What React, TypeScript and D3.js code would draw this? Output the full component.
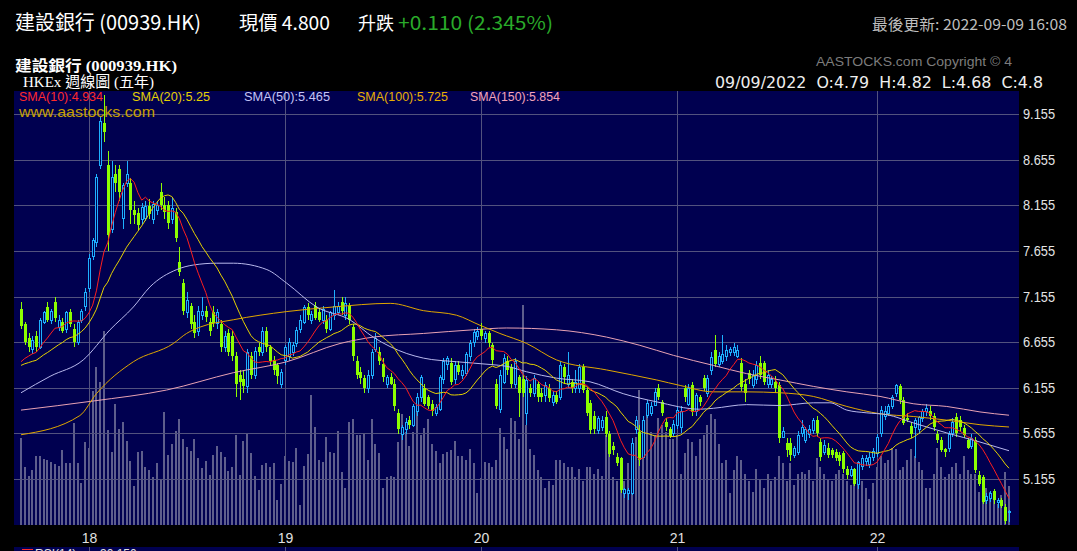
import React from 'react';
import * as d3 from 'd3';

// ---------- data ----------
const yearLabels = ['18', '19', '20', '21', '22'];
const yearStartIdx = [18, 70, 122, 174, 227];
const priceTicks = [5.155, 5.655, 6.155, 6.655, 7.155, 7.655, 8.155, 8.655, 9.155];

// weekly [open, high, low, close]
const ohlc2017 = [
  [7.02,7.10,6.80,6.83],[6.85,6.88,6.62,6.66],[6.70,6.75,6.55,6.60],[6.58,6.72,6.52,6.68],
  [6.72,6.78,6.55,6.60],[6.60,6.92,6.58,6.90],[6.88,7.00,6.85,6.98],[7.04,7.10,6.88,6.90],
  [6.90,7.02,6.85,7.00],[7.10,7.15,6.88,6.92],[6.82,6.95,6.78,6.90],[6.88,6.92,6.75,6.78],
  [6.80,7.00,6.76,6.98],[6.98,7.02,6.82,6.85],[6.80,6.85,6.60,6.66],[6.66,6.90,6.62,6.88],
  [6.90,7.02,6.86,7.00],[7.05,7.25,7.00,7.20]
];
const ohlc2018 = [
  [7.25,7.62,7.20,7.58],[7.60,7.80,7.55,7.77],[7.75,8.50,7.70,8.47],[8.60,9.12,8.55,9.08],
  [9.06,9.36,8.85,8.96],[8.60,8.75,7.65,7.83],[7.90,8.64,7.85,8.47],[8.50,8.60,8.30,8.40],
  [8.55,8.60,8.20,8.30],[8.01,8.40,7.90,8.38],[8.40,8.64,8.35,8.50],[8.40,8.45,7.95,8.10],
  [8.10,8.20,7.95,8.05],[8.07,8.12,7.88,7.94],[8.00,8.18,7.95,8.14],[8.02,8.20,7.98,8.15],
  [8.15,8.22,8.00,8.06],[8.00,8.20,7.95,8.17],[8.10,8.20,8.05,8.16],[8.30,8.40,8.10,8.16],
  [8.16,8.25,8.00,8.08],[8.16,8.20,7.90,7.96],[8.00,8.25,7.95,8.12],[8.08,8.12,7.75,7.80],
  [7.53,7.70,7.38,7.42],[7.30,7.35,6.95,7.00],[6.98,7.20,6.92,7.12],[7.05,7.08,6.80,6.85],
  [6.88,6.95,6.70,6.75],[6.78,7.05,6.72,7.00],[6.95,7.15,6.90,7.00],[7.00,7.05,6.88,6.93],
  [6.88,6.92,6.72,6.78],[6.98,7.05,6.82,6.86],[6.86,7.02,6.80,6.98],[6.85,6.90,6.55,6.60],
  [6.60,6.78,6.55,6.72],[6.75,6.80,6.50,6.55],[6.72,6.78,6.45,6.50],[6.50,6.55,6.05,6.20],
  [6.30,6.35,6.02,6.22],[6.25,6.35,6.10,6.17],[6.17,6.58,6.10,6.55],[6.50,6.55,6.25,6.30],
  [6.30,6.60,6.25,6.56],[6.60,6.65,6.50,6.55],[6.55,6.82,6.50,6.78],[6.78,6.82,6.55,6.60],
  [6.60,6.62,6.40,6.45],[6.46,6.50,6.30,6.35],[6.40,6.43,6.20,6.28],[6.20,6.36,6.15,6.33]
];
const ohlc2019 = [
  [6.46,6.62,6.40,6.60],[6.50,6.70,6.45,6.66],[6.55,6.66,6.50,6.62],[6.64,6.82,6.60,6.79],
  [6.80,6.95,6.75,6.90],[6.88,7.06,6.85,7.04],[7.04,7.08,6.90,6.95],[6.90,7.00,6.85,6.96],
  [7.05,7.10,6.90,6.92],[6.98,7.02,6.88,6.90],[6.90,7.05,6.85,7.02],[6.90,6.95,6.75,6.80],
  [6.80,7.00,6.78,6.98],[6.95,7.23,6.90,7.05],[6.98,7.10,6.95,7.05],[7.10,7.15,6.95,7.00],
  [6.95,7.15,6.90,7.08],[7.05,7.08,6.85,6.90],[6.82,6.85,6.45,6.50],[6.45,6.50,6.25,6.30],
  [6.33,6.38,6.20,6.26],[6.26,6.30,6.10,6.15],[6.15,6.35,6.10,6.30],[6.30,6.58,6.25,6.55],
  [6.58,6.75,6.55,6.70],[6.55,6.60,6.40,6.45],[6.42,6.48,6.22,6.27],[6.20,6.30,6.15,6.27],
  [6.27,6.32,6.18,6.20],[6.20,6.25,5.90,5.95],[5.88,5.92,5.65,5.70],[5.65,5.75,5.58,5.72],
  [5.70,5.82,5.65,5.78],[5.80,5.85,5.70,5.75],[5.75,5.98,5.72,5.95],[5.90,6.10,5.85,6.05],
  [6.05,6.30,6.00,6.27],[6.15,6.20,5.95,5.98],[6.05,6.08,5.92,5.95],[5.98,6.02,5.85,5.90],
  [5.88,5.98,5.84,5.94],[5.92,6.30,5.90,6.27],[6.25,6.48,6.20,6.45],[6.42,6.50,6.35,6.48],
  [6.43,6.48,6.18,6.22],[6.25,6.45,6.20,6.40],[6.40,6.45,6.30,6.33],[6.30,6.40,6.25,6.35],
  [6.32,6.55,6.28,6.52],[6.50,6.68,6.45,6.65],[6.66,6.80,6.60,6.77],[6.72,6.82,6.68,6.78]
];
const ohlc2020 = [
  [6.80,6.86,6.68,6.72],[6.70,6.78,6.65,6.75],[6.75,6.78,6.60,6.65],[6.62,6.65,6.40,6.46],
  [6.20,6.25,5.92,5.96],[5.92,6.35,5.88,6.30],[6.22,6.52,6.20,6.48],[6.45,6.50,6.30,6.35],
  [6.38,6.42,6.15,6.20],[6.20,6.48,6.15,6.45],[6.27,6.30,5.83,6.10],[6.25,6.30,6.05,6.10],
  [5.88,6.28,5.75,6.24],[6.15,6.20,6.05,6.10],[6.10,6.30,6.05,6.26],[6.20,6.22,6.00,6.05],
  [6.10,6.15,6.00,6.05],[6.08,6.22,6.00,6.18],[6.15,6.20,6.00,6.04],[6.00,6.12,5.95,6.08],
  [6.08,6.12,5.98,6.00],[6.05,6.45,6.02,6.40],[6.38,6.42,6.20,6.27],[6.20,6.55,6.15,6.30],
  [6.22,6.25,6.10,6.15],[6.15,6.35,6.10,6.22],[6.15,6.42,6.10,6.38],[6.38,6.42,6.10,6.13],
  [6.13,6.15,5.85,5.88],[5.99,6.02,5.65,5.69],[5.85,5.90,5.65,5.70],[5.69,5.85,5.65,5.82],
  [5.72,5.85,5.68,5.80],[5.83,5.90,5.62,5.65],[5.65,5.68,5.40,5.43],[5.52,5.56,5.42,5.47],
  [5.40,5.44,5.30,5.33],[5.38,5.40,5.00,5.03],[5.00,5.06,4.95,5.05],[5.00,5.06,4.92,5.03],
  [5.00,5.60,4.98,5.55],[5.70,5.85,5.65,5.80],[5.67,5.75,5.30,5.36],[5.40,5.85,5.38,5.80],
  [5.86,6.02,5.82,5.99],[5.88,6.00,5.85,5.95],[5.97,6.15,5.95,6.11],[6.15,6.20,6.02,6.05],
  [6.00,6.02,5.85,5.88],[5.78,5.82,5.68,5.72],[5.70,5.72,5.60,5.63],[5.66,5.80,5.62,5.76]
];
const ohlc2021 = [
  [5.75,5.95,5.70,5.91],[5.72,5.95,5.66,5.90],[6.15,6.18,6.00,6.05],[5.98,6.20,5.95,6.15],
  [6.19,6.22,5.85,5.89],[5.90,6.10,5.85,6.08],[6.05,6.08,5.95,6.00],[6.26,6.30,6.12,6.15],
  [6.10,6.30,6.05,6.26],[6.35,6.55,6.30,6.49],[6.57,6.73,6.38,6.42],[6.42,6.55,6.38,6.50],
  [6.45,6.73,6.42,6.52],[6.50,6.62,6.45,6.57],[6.55,6.60,6.50,6.58],[6.55,6.65,6.50,6.60],
  [6.50,6.62,6.48,6.57],[6.43,6.48,6.12,6.16],[6.20,6.25,6.00,6.10],[6.32,6.35,6.20,6.25],
  [6.18,6.35,6.15,6.30],[6.25,6.45,6.20,6.40],[6.43,6.50,6.25,6.30],[6.43,6.45,6.18,6.22],
  [6.20,6.35,6.15,6.30],[6.20,6.28,6.15,6.25],[6.22,6.28,6.10,6.15],[6.18,6.22,5.55,5.60],
  [5.62,5.72,5.60,5.68],[5.55,5.60,5.40,5.47],[5.55,5.60,5.35,5.42],[5.42,5.52,5.38,5.50],
  [5.45,5.68,5.42,5.64],[5.66,5.80,5.62,5.72],[5.58,5.72,5.55,5.70],[5.65,5.75,5.60,5.70],
  [5.69,5.82,5.65,5.80],[5.80,5.85,5.62,5.66],[5.56,5.60,5.35,5.40],[5.45,5.58,5.42,5.53],
  [5.50,5.55,5.38,5.42],[5.47,5.50,5.38,5.42],[5.45,5.48,5.35,5.38],[5.42,5.45,5.30,5.35],
  [5.44,5.46,5.22,5.26],[5.26,5.30,5.15,5.20],[5.20,5.30,5.18,5.26],[5.26,5.28,5.08,5.10],
  [5.10,5.35,5.05,5.34],[5.30,5.42,5.25,5.38],[5.35,5.42,5.30,5.38],[5.32,5.45,5.28,5.40],
  [5.40,5.50,5.35,5.46]
];
const ohlc2022 = [
  [5.44,5.65,5.40,5.62],[5.66,5.95,5.62,5.91],[5.85,5.95,5.80,5.90],[5.88,5.98,5.85,5.96],
  [5.95,6.08,5.92,6.05],[6.10,6.20,6.05,6.18],[6.17,6.20,5.98,6.02],[6.02,6.05,5.75,5.77],
  [5.82,5.88,5.78,5.80],[5.74,5.78,5.60,5.65],[5.73,5.82,5.38,5.80],[5.70,5.85,5.65,5.83],
  [5.82,5.92,5.78,5.90],[5.90,5.98,5.85,5.93],[5.90,5.95,5.80,5.84],[5.84,5.88,5.68,5.72],
  [5.65,5.68,5.55,5.58],[5.58,5.62,5.45,5.47],[5.48,5.50,5.40,5.45],[5.50,5.68,5.45,5.65],
  [5.66,5.82,5.62,5.78],[5.83,5.88,5.62,5.66],[5.80,5.85,5.68,5.72],[5.71,5.75,5.60,5.64],
  [5.58,5.60,5.48,5.50],[5.52,5.65,5.48,5.60],[5.58,5.62,5.22,5.25],[5.20,5.24,5.08,5.10],
  [5.18,5.20,4.88,4.90],[4.92,5.00,4.88,4.97],[4.95,5.02,4.90,5.00],[5.02,5.05,4.88,4.92],
  [4.90,4.95,4.84,4.93],[4.93,4.95,4.84,4.86],[4.85,4.88,4.66,4.69],[4.79,4.82,4.68,4.80]
];

// weekly volume (millions of shares)
const vol2017 = [823,550,467,523,650,650,623,617,600,577,557,710,583,590,963,590,400,783];
const vol2018 = [733,1267,1500,1350,1833,900,690,1150,910,977,800,610,367,690,700,550,523,457,590,430,
  1067,667,767,890,1000,817,743,700,810,630,543,610,477,667,750,690,643,510,550,850,477,800,867,683,463,330,
  567,590,550,583,233,393];
const vol2019 = [650,610,600,730,193,557,677,1230,930,617,600,830,690,683,890,500,350,977,1003,850,
  850,867,617,1000,767,683,350,450,467,450,783,1050,883,750,883,1067,850,917,1000,767,
  700,590,677,690,710,800,657,650,617,717,583,300];
const vol2020 = [443,600,583,550,617,917,833,717,1017,983,817,2083,950,717,667,517,450,350,417,383,
  617,617,583,550,550,450,533,417,550,550,483,533,467,850,783,450,417,617,417,583,
  583,833,1283,950,1083,883,850,1017,950,883,817,817];
const vol2021 = [850,483,683,817,783,650,817,850,950,1050,1000,767,583,617,300,517,650,617,483,417,
  317,533,433,350,483,417,450,650,583,417,583,383,483,500,483,517,417,633,550,483,
  433,417,483,517,483,417,383,450,483,417,350,250,400];
const vol2022 = [550,650,583,617,733,717,517,550,617,717,650,600,517,350,350,483,733,550,450,483,
  550,583,483,650,517,483,483,317,250,350,317,250,200,283,500,367];

// closes of the weeks before the first bar (for the 10/20 week averages)
const priorCloses = [6.30,6.35,6.40,6.38,6.32,6.36,6.40,6.42,6.35,6.32,6.30,6.35,6.42,6.45,6.40,6.38,6.42,6.45,6.40];

// long moving averages (week index, value)
const sma50Week = [0,7.7,16.5,23.6,29.8,34.2,41.3,45.7,51.9,56.3,65.2,70.5,78.4,87.2,93.4,102.3,106.7,115.5,124.4,128.8,134.1,142,150.9,159.7,168.6,180,183.6,192.4,201.3,210.1,214.5,219,224.3,229.6,236.6,245.5,254.3,262];
const sma50Val = [6.10,6.28,6.46,6.79,7.04,7.26,7.45,7.50,7.52,7.52,7.45,7.30,7.04,6.90,6.71,6.53,6.48,6.44,6.41,6.39,6.33,6.26,6.22,6.09,6.00,5.92,5.93,5.97,5.96,5.99,5.99,5.91,5.88,5.86,5.77,5.66,5.56,5.465];
const sma100Week = [0,15.6,20,29.8,40.4,43.9,47.5,56.3,70.5,82.8,97.9,106.7,115.5,121.7,127,134.1,142,155.3,168.6,174.8,183.6,192.4,201.3,210.1,219,227.8,236.6,245.5,254.3,262];
const sma100Val = [5.64,5.85,6.09,6.44,6.64,6.75,6.82,6.90,6.99,7.04,7.08,7.00,6.95,6.84,6.75,6.64,6.46,6.35,6.24,6.18,6.11,6.11,6.10,6.06,5.95,5.87,5.84,5.80,5.75,5.725];
const sma150Week = [0,19.2,38.6,56.3,70.5,84.6,93.4,106.7,119.9,128.8,142,155.3,164.1,173,183.6,192.4,201.3,210.1,219,227.8,236.6,245.5,254.3,262];
const sma150Val = [5.91,6.01,6.13,6.32,6.44,6.64,6.71,6.75,6.79,6.81,6.79,6.71,6.62,6.51,6.40,6.31,6.24,6.17,6.11,6.06,5.98,5.95,5.89,5.854];

const legendItems = [
  { label: 'SMA(10):4.934', color: '#ff2a2a' },
  { label: 'SMA(20):5.25', color: '#e6d200' },
  { label: 'SMA(50):5.465', color: '#c4c4f4' },
  { label: 'SMA(100):5.725', color: '#e8b000' },
  { label: 'SMA(150):5.854', color: '#f4a4b8' },
];

// ---------- styles ----------
const BG = '#000050';
const GRID = '#52527e';
const UP = '#1eb0ff';
const DOWN = '#8cff00';
const VOL = '#5e5e8c';
const LINE_COLORS = { s10: '#ff1e1e', s20: '#e6d200', s50: '#b8b8ec', s100: '#e0a600', s150: '#e8a2b4' };

export default function App() {
  const W = 1077, H = 551;
  const L = 14, R = 1019, T = 91, B = 525;

  const ohlc = [...ohlc2017, ...ohlc2018, ...ohlc2019, ...ohlc2020, ...ohlc2021, ...ohlc2022];
  const vols = [...vol2017, ...vol2018, ...vol2019, ...vol2020, ...vol2021, ...vol2022];

  const x = d3.scaleLinear().domain([-1.856, 264.65]).range([L, R]);
  const y = d3.scaleLinear().domain([4.6509, 9.4071]).range([B, T]);
  const yv = d3.scaleLinear().domain([0, 4110]).range([B, T]);

  const closes = ohlc.map(d => d[3]);
  const allCloses = [...priorCloses, ...closes];
  const p = priorCloses.length;
  const movAvg = (n: number) => closes.map((_, i) => d3.mean(allCloses.slice(i + p - n + 1, i + p + 1)) as number);
  const s10 = movAvg(10);
  const s20 = movAvg(20);

  const lineIdx = d3.line<number>().x((_, i) => x(i)).y(v => y(v));
  const lineSample = (weeks: number[], vals: number[]) =>
    d3.line<number>().x((_, i) => x(weeks[i])).y(v => y(v)).curve(d3.curveMonotoneX)(vals) || '';

  const legendX = [19, 132, 244, 357, 470];
  const legendW = [84, 78, 86, 91, 90];

  return (
    <svg width={W} height={H} style={{ position: 'fixed', left: 0, top: 0, background: '#000' }}>
      <defs>
        <clipPath id="plotClip"><rect x={L} y={T} width={R - L} height={B - T} /></clipPath>
      </defs>
      <rect x={0} y={0} width={W} height={H} fill="#000" />

      {/* header */}
      <g fontFamily="'Noto Sans CJK TC', 'Noto Sans', sans-serif">
        <text x={15} y={30} fontSize={20} fill="#fff" textLength={186} lengthAdjust="spacingAndGlyphs">建設銀行 (00939.HK)</text>
        <text x={239} y={30} fontSize={19} fill="#fff" textLength={91} lengthAdjust="spacingAndGlyphs">現價 4.800</text>
        <text x={358} y={30} fontSize={18} fill="#fff">升跌</text>
        <text x={398} y={30} fontSize={19} fill="#2aaa2a" textLength={155} lengthAdjust="spacingAndGlyphs">+0.110 (2.345%)</text>
        <text x={872} y={30} fontSize={15} fill="#bdbdbd" textLength={195} lengthAdjust="spacingAndGlyphs">最後更新: 2022-09-09 16:08</text>
      </g>
      <g fontFamily="'Liberation Serif', 'Noto Sans CJK TC', serif">
        <text x={15} y={71} fontSize={15} fontWeight="bold" fill="#fff" textLength={162} lengthAdjust="spacingAndGlyphs">建設銀行 (000939.HK)</text>
        <text x={23} y={87} fontSize={15} fill="#fff" textLength={131} lengthAdjust="spacingAndGlyphs">HKEx 週線圖 (五年)</text>
      </g>
      <text x={816} y={66} fontSize={13} fill="#7c7c7c" fontFamily="'Liberation Sans', sans-serif" textLength={196} lengthAdjust="spacingAndGlyphs">AASTOCKS.com Copyright © 4</text>
      <text x={715} y={88} fontSize={15} fill="#eee" fontFamily="'DejaVu Sans', sans-serif" style={{ whiteSpace: 'pre' }} textLength={328} lengthAdjust="spacingAndGlyphs">09/09/2022  O:4.79  H:4.82  L:4.68  C:4.8</text>

      {/* plot background */}
      <rect x={L} y={T} width={R - L} height={B - T} fill={BG} />

      {/* volume */}
      <g>
        {vols.map((v, i) => {
          const X = Math.round(x(i));
          const top = Math.round(yv(v));
          return <rect key={i} x={X - 1} y={top} width={2} height={B - top} fill={VOL} />;
        })}
      </g>

      {/* grid */}
      <g stroke={GRID} strokeWidth={1}>
        {priceTicks.map(t => {
          const yy = Math.round(y(t)) + 0.5;
          return <line key={t} x1={L} x2={R} y1={yy} y2={yy} />;
        })}
        {yearStartIdx.map(i => {
          const xx = Math.round(x(i)) + 0.5;
          return <line key={i} x1={xx} x2={xx} y1={T} y2={B} />;
        })}
      </g>

      {/* candles */}
      <g clipPath="url(#plotClip)">
        {ohlc.map((d, i) => {
          const [o, h, l, c] = d;
          const X = Math.round(x(i));
          const up = c >= o;
          const col = up ? UP : DOWN;
          const yt = Math.round(y(Math.max(o, c)));
          const yb = Math.round(y(Math.min(o, c)));
          return (
            <g key={i}>
              <line x1={X + 0.5} x2={X + 0.5} y1={Math.round(y(h))} y2={Math.round(y(l))} stroke={col} />
              {up
                ? <rect x={X - 0.5} y={yt + 0.5} width={2} height={Math.max(1, yb - yt)} fill={BG} stroke={col} />
                : <rect x={X - 1} y={yt} width={3} height={Math.max(1, yb - yt)} fill={col} />}
            </g>
          );
        })}
      </g>

      {/* moving averages */}
      <g clipPath="url(#plotClip)" fill="none" strokeWidth={1}>
        <path d={lineSample(sma150Week, sma150Val)} stroke={LINE_COLORS.s150} />
        <path d={lineSample(sma100Week, sma100Val)} stroke={LINE_COLORS.s100} />
        <path d={lineSample(sma50Week, sma50Val)} stroke={LINE_COLORS.s50} />
        <path d={lineIdx(s20) || ''} stroke={LINE_COLORS.s20} />
        <path d={lineIdx(s10) || ''} stroke={LINE_COLORS.s10} />
      </g>

      {/* legend */}
      <g fontFamily="'Liberation Sans', sans-serif" fontSize={12}>
        {legendItems.map((it, k) => (
          <text key={it.label} x={legendX[k]} y={101} fill={it.color} textLength={legendW[k]} lengthAdjust="spacingAndGlyphs">{it.label}</text>
        ))}
        <text x={19} y={117} fontSize={15} fill="#c8a000" textLength={136} lengthAdjust="spacingAndGlyphs">www.aastocks.com</text>
      </g>

      {/* price axis */}
      <g fontFamily="'Liberation Sans', sans-serif" fontSize={14} fill="#e4e4e4">
        {priceTicks.map(t => (
          <text key={t} x={1023} y={Math.round(y(t)) + 5} textLength={32} lengthAdjust="spacingAndGlyphs">{t.toFixed(3)}</text>
        ))}
      </g>

      {/* year axis */}
      <g fontFamily="'Liberation Sans', sans-serif" fontSize={14} fill="#e0e0e0" textAnchor="middle">
        {yearStartIdx.map((i, k) => (
          <text key={i} x={Math.round(x(i)) + 0.5} y={543}>{yearLabels[k]}</text>
        ))}
      </g>

      {/* RSI panel (cut off by the frame, as in the original) */}
      <rect x={L} y={547} width={R - L} height={10} fill={BG} />
      <g stroke={GRID}>
        {yearStartIdx.map(i => {
          const xx = Math.round(x(i)) + 0.5;
          return <line key={i} x1={xx} x2={xx} y1={547} y2={H} />;
        })}
      </g>
      <line x1={22} x2={33} y1={549.5} y2={549.5} stroke="#ff2a2a" />
      <g fontFamily="'Liberation Sans', sans-serif" fontSize={12} fill="#e0e0e0">
        <text x={35} y={558}>RSI(14)</text>
        <text x={100} y={558}>30.150</text>
      </g>
    </svg>
  );
}
